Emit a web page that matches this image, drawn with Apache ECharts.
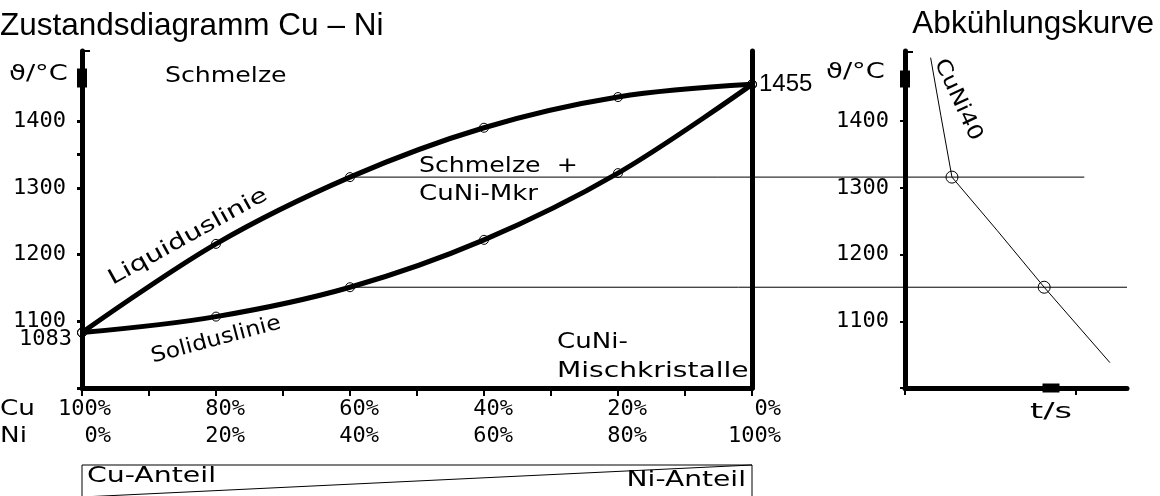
<!DOCTYPE html>
<html>
<head>
<meta charset="utf-8">
<script src="https://cdn.jsdelivr.net/npm/echarts@6/dist/echarts.min.js"></script>
<style>
  html, body { margin: 0; padding: 0; background: #fff; }
  #main { width: 1160px; height: 496px; }
</style>
</head>
<body>
<div id="main"></div>
<script>
// Cu–Ni phase diagram: composition in % Ni (x) against temperature in °C (y)
const NI_PCT = [0, 20, 40, 60, 80, 100];
const LIQUIDUS = [1083, 1216, 1316, 1390, 1436, 1455];
const SOLIDUS = [1083, 1107, 1151, 1222, 1322, 1455];
const X_LABEL_VALUES = [0, 20, 40, 60, 80, 100];
const Y_TICK_VALUES = [1000, 1100, 1200, 1300, 1350, 1400];
const Y_LABEL_VALUES = [1100, 1200, 1300, 1400];

// Cooling curve of CuNi40: time (s) against temperature (°C)
const COOL_T = [1.5, 2.1, 2.75, 5.4, 8.15, 12.0];
const COOL_TEMP = [1495, 1408, 1316, 1236, 1151, 1038];
const COOL_MARKED = [2, 4];            // start and end of solidification
const TIME_TICKS = [0, 10];
const TIE_END_T = [10.5, 13];          // where the two isotherms stop on the time axis
const ALLOY_INDEX = 2;                 // CuNi40 -> 40 % Ni

const T_MIN = 1000, T_MAX = 1505;
const TOP = 51, BOTTOM = 108;

const NUM_FONT = '"DejaVu Sans Mono", monospace';
const CAD_FONT = '21px "DejaVu Sans", sans-serif';
const TITLE_FONT = '31.5px "Liberation Sans", Arial, sans-serif';

function cadText(text, x, y, opts) {
  opts = opts || {};
  return {
    type: 'text', x: x, y: y,
    rotation: (opts.rot || 0) * Math.PI / 180,
    scaleX: opts.sx || 1.2, scaleY: 1,
    style: {
      text: text, font: opts.font || CAD_FONT, fill: '#000',
      align: opts.align || 'left', textAlign: opts.align || 'left',
      verticalAlign: 'middle', textVerticalAlign: 'middle'
    }
  };
}

function title(text, x, y, align) {
  return { type: 'text', x: x, y: y, style: { text: text, font: TITLE_FONT, fill: '#000',
    align: align, textAlign: align, verticalAlign: 'middle', textVerticalAlign: 'middle' } };
}

const hollow = { color: 'rgba(0,0,0,0)', borderColor: '#000', borderWidth: 1 };

const liquidusData = NI_PCT.map((n, i) => {
  const item = { value: [n, LIQUIDUS[i]] };
  if (i === NI_PCT.length - 1) {
    item.label = { show: true, position: 'right', distance: 2, formatter: String(LIQUIDUS[i]),
      fontFamily: '"Liberation Sans", Arial, sans-serif', fontSize: 24, color: '#000' };
  }
  return item;
});
const solidusData = NI_PCT.map((n, i) => {
  const item = { value: [n, SOLIDUS[i]] };
  if (i === 0) {
    item.label = { show: true, position: 'left', distance: 5, offset: [0, 7], formatter: String(SOLIDUS[i]),
      fontFamily: NUM_FONT, fontSize: 22, color: '#000' };
  }
  return item;
});
const coolData = COOL_T.map((t, i) => [t, COOL_TEMP[i]]);

const blackLine = (w) => ({ color: '#000', width: w });
const tempLabel = { customValues: Y_LABEL_VALUES, margin: 16, fontFamily: NUM_FONT, fontSize: 22,
  color: '#000', formatter: v => String(v) };

const option = {
  animation: false,
  backgroundColor: '#fff',
  grid: [
    { left: 82, width: 670, top: TOP, bottom: BOTTOM, outerBoundsMode: 'none' },
    { left: 905, right: 33, top: TOP, bottom: BOTTOM, outerBoundsMode: 'none' },
    { left: 0, right: 0, top: TOP, bottom: BOTTOM, outerBoundsMode: 'none' }
  ],
  xAxis: [
    {
      gridIndex: 0, type: 'value', min: 0, max: 100, interval: 10,
      axisLine: { show: true, onZero: false, lineStyle: blackLine(5) },
      axisTick: { show: true, length: 8, lineStyle: blackLine(2) },
      axisLabel: {
        customValues: X_LABEL_VALUES, margin: 8,
        formatter: v => `{a|${100 - v}%}\n{a|${v}%}`,
        rich: { a: { fontFamily: NUM_FONT, fontSize: 22, lineHeight: 27, width: 58, align: 'right', color: '#000' } }
      },
      splitLine: { show: false }
    },
    {
      gridIndex: 1, type: 'value', min: 0, max: 13, interval: 10,
      axisLine: { show: true, onZero: false, lineStyle: blackLine(5),
        symbol: ['none', 'rect'], symbolSize: [9, 17], symbolOffset: [0, -76] },
      axisTick: { show: true, length: 7, lineStyle: blackLine(2), customValues: TIME_TICKS },
      axisLabel: { show: false },
      splitLine: { show: false }
    },
    { gridIndex: 2, type: 'value', min: 0, max: 1160, show: false }
  ],
  yAxis: [
    {
      gridIndex: 0, type: 'value', min: T_MIN, max: T_MAX, interval: 100,
      axisLine: { show: true, onZero: false, lineStyle: blackLine(5),
        symbol: ['none', 'rect'], symbolSize: [10, 19], symbolOffset: [0, -27] },
      axisTick: { show: true, length: 5, lineStyle: blackLine(3), customValues: Y_TICK_VALUES },
      axisLabel: tempLabel,
      splitLine: { show: false }
    },
    {
      gridIndex: 0, type: 'value', position: 'right', min: T_MIN, max: T_MAX,
      axisLine: { show: true, onZero: false, lineStyle: blackLine(5) },
      axisTick: { show: false }, axisLabel: { show: false }, splitLine: { show: false }
    },
    {
      gridIndex: 1, type: 'value', min: T_MIN, max: T_MAX, interval: 100,
      axisLine: { show: true, onZero: false, lineStyle: blackLine(5),
        symbol: ['none', 'rect'], symbolSize: [10, 17], symbolOffset: [0, -28] },
      axisTick: { show: true, length: 5, lineStyle: blackLine(2), customValues: Y_TICK_VALUES.filter(v => v % 100 === 0) },
      axisLabel: tempLabel,
      splitLine: { show: false }
    },
    { gridIndex: 2, type: 'value', min: T_MIN, max: T_MAX, show: false }
  ],
  series: [
    // isotherms through the CuNi40 liquidus and solidus points, positioned after layout
    { id: 'tie0', type: 'line', xAxisIndex: 2, yAxisIndex: 3, data: [], symbol: 'none',
      lineStyle: blackLine(1), silent: true, z: 1 },
    { id: 'tie1', type: 'line', xAxisIndex: 2, yAxisIndex: 3, data: [], symbol: 'none',
      lineStyle: blackLine(1), silent: true, z: 1 },
    {
      name: 'Liquiduslinie', type: 'line', xAxisIndex: 0, yAxisIndex: 0,
      data: liquidusData, smooth: 0.35, lineStyle: blackLine(5),
      symbol: 'circle', symbolSize: 9, showAllSymbol: true, itemStyle: hollow, z: 3
    },
    {
      name: 'Soliduslinie', type: 'line', xAxisIndex: 0, yAxisIndex: 0,
      data: solidusData, smooth: 0.35, lineStyle: blackLine(5),
      symbol: 'circle', symbolSize: 9, showAllSymbol: true, itemStyle: hollow, z: 3
    },
    {
      name: 'CuNi40', type: 'line', xAxisIndex: 1, yAxisIndex: 2,
      data: coolData, lineStyle: blackLine(1), showAllSymbol: true,
      symbol: (val, params) => COOL_MARKED.includes(params.dataIndex) ? 'circle' : 'none',
      symbolSize: 12, itemStyle: hollow, z: 3
    }
  ],
  graphic: [
    title('Zustandsdiagramm Cu – Ni', 0, 26, 'left'),
    title('Abkühlungskurve', 1154, 24, 'right'),

    cadText('ϑ/°C', 9, 75, { sx: 1.3 }),
    cadText('ϑ/°C', 826, 73, { sx: 1.3 }),
    cadText('Schmelze', 165, 77, { sx: 1.2 }),
    cadText('Schmelze  +', 419, 167, { sx: 1.2 }),
    cadText('CuNi-Mkr', 419, 195, { sx: 1.24 }),
    cadText('CuNi-', 557, 343, { sx: 1.24 }),
    cadText('Mischkristalle', 557, 372, { sx: 1.34 }),
    cadText('Liquiduslinie', 188, 237, { align: 'center', rot: 29, sx: 1.36 }),
    cadText('Soliduslinie', 216, 340, { align: 'center', rot: 15, sx: 1.12 }),
    cadText('CuNi40', 958, 100, { align: 'center', rot: -65, sx: 1.15 }),
    cadText('t/s', 1030, 413, { sx: 1.6 }),
    cadText('Cu', 0, 410, { sx: 1.25 }),
    cadText('Ni', 0, 437, { sx: 1.25 }),
    cadText('Cu-Anteil', 87, 477, { sx: 1.35 }),
    cadText('Ni-Anteil', 746, 481, { align: 'right', sx: 1.34 }),

    // share bar: Cu share above the diagonal, Ni share below it
    { type: 'rect', shape: { x: 82, y: 465, width: 670, height: 32 },
      style: { fill: 'none', stroke: '#000', lineWidth: 1 } },
    { type: 'line', shape: { x1: 82, y1: 497, x2: 752, y2: 465 },
      style: { stroke: '#000', lineWidth: 1 } },

    // small caps at the top of the temperature axes
    { type: 'line', shape: { x1: 82, y1: 51, x2: 90, y2: 51 }, style: { stroke: '#000', lineWidth: 2 } },
    { type: 'line', shape: { x1: 905, y1: 52, x2: 913, y2: 52 }, style: { stroke: '#000', lineWidth: 2 } }
  ]
};

const chart = echarts.init(document.getElementById('main'), null, { renderer: 'canvas' });
chart.setOption(option);

// isotherms start at the alloy's composition and run across into the cooling chart
const tieTemps = [LIQUIDUS[ALLOY_INDEX], SOLIDUS[ALLOY_INDEX]];
const xStart = chart.convertToPixel({ xAxisIndex: 0 }, NI_PCT[ALLOY_INDEX]);
chart.setOption({
  series: tieTemps.map((temp, i) => ({
    id: 'tie' + i,
    data: [[xStart, temp], [chart.convertToPixel({ xAxisIndex: 1 }, TIE_END_T[i]), temp]]
  }))
});
</script>
</body>
</html>
